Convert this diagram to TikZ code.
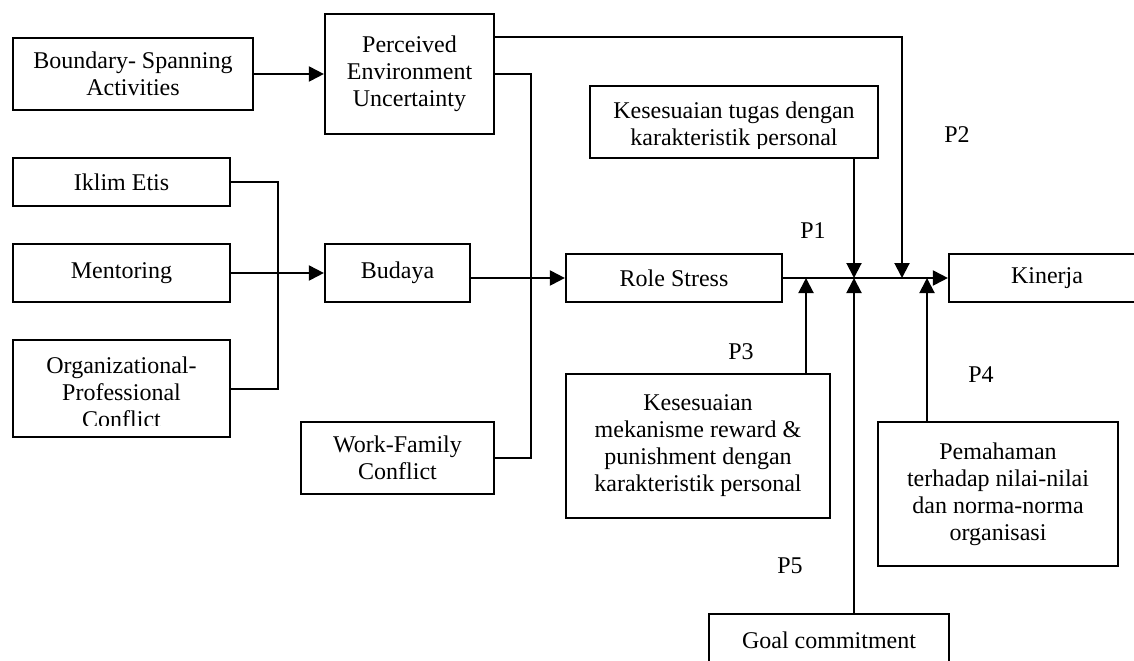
\documentclass[tikz,border=0pt]{standalone}
\usepackage{fontspec}
\setmainfont{Liberation Serif}
\usetikzlibrary{arrows.meta}

\begin{document}
\begin{tikzpicture}[x=0.5pt, y=-0.5pt,
    kotak/.style={draw, line width=1.1pt, inner sep=0pt, align=center, font=\fontsize{12}{13.5}\selectfont},
    tanda/.style={inner sep=0pt, align=center, font=\fontsize{12}{13.5}\selectfont},
    garis/.style={line width=1pt},
    panah/.style={line width=1pt, -{Triangle[length=7.5pt,width=7.5pt]}}]
    \useasboundingbox (0,0) rectangle (1134,660);
    \clip (0,0) rectangle (1134,660);
    % kotak kiri
    \node[kotak, minimum width=120pt, minimum height=36pt] (batas) at (133,74) {Boundary- Spanning\\Activities};
    \node[kotak, minimum width=84.5pt, minimum height=60pt] (peu) at (409.5,74) {Perceived\\Environment\\Uncertainty};
    \node[kotak, minimum width=108.5pt, minimum height=24pt] (iklim) at (121.5,182) {Iklim Etis};
    \node[kotak, minimum width=108.5pt, minimum height=29pt] (mentor) at (121.5,273) {Mentoring};
    \node[kotak, minimum width=108.5pt, minimum height=48.5pt] (orgpro) at (121.5,388.5) {};
    \begin{scope}
        \clip (13,340) rectangle (230,425);
        \node[tanda] (orgproteks) at (121.5,392.5) {Organizational-\\Professional\\Conflict};
    \end{scope}
    \node[kotak, minimum width=72.5pt, minimum height=29pt] (budaya) at (397.5,273) {Budaya};
    \node[kotak, minimum width=96.5pt, minimum height=36pt] (wfc) at (397.5,458) {Work-Family\\Conflict};
    % kotak kanan
    \node[kotak, minimum width=108pt, minimum height=24pt] (role) at (674,278) {Role Stress};
    \node[kotak, minimum width=98pt, minimum height=24pt] (kinerja) at (1047,278) {Kinerja};
    \node[kotak, minimum width=144pt, minimum height=36pt] (tugas) at (734,122) {};
    \begin{scope}
        \clip (590,86) rectangle (878,148);
        \node[tanda] (tugasteks) at (734,126.5) {Kesesuaian tugas dengan\\karakteristik personal};
    \end{scope}
    \node[kotak, minimum width=132pt, minimum height=72pt] (mekanisme) at (698,446) {Kesesuaian\\mekanisme reward \&\\punishment dengan\\karakteristik personal};
    \node[kotak, minimum width=120pt, minimum height=72pt] (pemahaman) at (998,494) {Pemahaman\\terhadap nilai-nilai\\dan norma-norma\\organisasi};
    \node[kotak, minimum width=120pt, minimum height=26pt] (goal) at (829,640) {Goal commitment};
    % titik temu di garis utama
    \coordinate (j1) at (806,278);
    \coordinate (j2) at (854,278);
    \coordinate (j3) at (902,278);
    \coordinate (j4) at (927,278);
    % garis
    \draw[panah] (batas) -- (peu);
    \draw[garis] (iklim.east) -- ++(47,0) |- (orgpro.east);
    \draw[panah] (mentor) -- (budaya);
    \draw[garis] (peu.east) -- ++(36,0) |- (wfc.east);
    \draw[panah] (budaya.east |- role.west) -- (role);
    \draw[panah] ([yshift=-12pt]peu.north east) -| (j3);
    \draw[panah] (role) -- (kinerja);
    \draw[panah] (tugas.south -| j2) -- (j2);
    \draw[panah] (mekanisme.north -| j1) -- (j1);
    \draw[panah] (goal.north -| j2) -- (j2);
    \draw[panah] (pemahaman.north -| j4) -- (j4);
    % label P
    \node[tanda] (p1) at (813,231) {P1};
    \node[tanda] (p2) at (957,134.5) {P2};
    \node[tanda] (p3) at (741,352) {P3};
    \node[tanda] (p4) at (981,374.5) {P4};
    \node[tanda] (p5) at (790,566) {P5};
\end{tikzpicture}
\end{document}
